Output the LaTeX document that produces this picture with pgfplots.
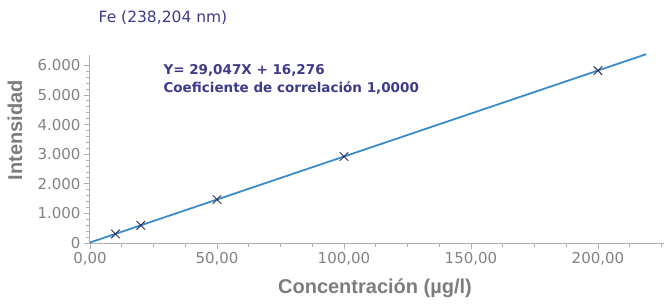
\documentclass[border=0pt]{standalone}
\usepackage{pgfplots}
\pgfplotsset{compat=1.18}
\usepackage{fontspec}
\setmainfont{Liberation Sans}
\newfontfamily\dv{DejaVu Sans}
\definecolor{titlec}{RGB}{62,58,140}
\definecolor{linec}{RGB}{58,140,200}
\definecolor{markc}{RGB}{45,50,85}
\definecolor{axc}{RGB}{175,175,175}
\definecolor{tickc}{RGB}{130,130,130}
\definecolor{labc}{RGB}{125,125,125}
\begin{document}
\begin{tikzpicture}
\useasboundingbox (-90pt,-62pt) rectangle (581pt,243pt);
\begin{axis}[
  at={(0,0)}, anchor=south west,
  scale only axis, width=574pt, height=188pt,
  xmin=0, xmax=226, ymin=0, ymax=6350,
  axis lines=left, axis line style={axc, line width=1pt, -},
  xtick={0,50,100,150,200}, ytick={0,1000,2000,3000,4000,5000,6000},
  minor xtick={12.5,25,37.5,62.5,75,87.5,112.5,125,137.5,162.5,175,187.5,212.5,225},
  minor y tick num=4,
  tick style={axc, line width=0.8pt},
  major tick length=6pt, minor tick length=4pt,
  tick align=outside,
  every tick label/.append style={font=\dv\fontsize{15}{17}\selectfont, text=tickc},
  /pgf/number format/assume math mode=true,
  xticklabel style={/pgf/number format/.cd, fixed, fixed zerofill, precision=2, use comma, 1000 sep={.}},
  yticklabel style={/pgf/number format/.cd, fixed, precision=0, use comma, 1000 sep={.}},
  scaled ticks=false,
  clip=false,
]
\addplot[linec, line width=1.8pt] coordinates {(0,16.276) (219,6377.6)};
\addplot[only marks, mark=x, mark size=6pt, mark options={markc, line width=1pt}] coordinates {
(10,306.7) (20,597.2) (50,1468.6) (100,2921.0) (200,5825.7)};
\end{axis}
\node[text=titlec, font=\dv\fontsize{15.5}{18}\selectfont] at (73pt,225pt) {Fe (238,204 nm)};
\node[text=titlec, font=\dv\bfseries\fontsize{13.5}{18}\selectfont, anchor=west, align=left] at (70pt,164pt) {Y= 29,047X + 16,276\\Coeficiente de correlación 1,0000};
\node[text=labc, font=\bfseries\fontsize{20}{22}\selectfont] at (285pt,-45pt) {Concentración (µg/l)};
\node[text=labc, font=\bfseries\fontsize{20}{22}\selectfont, rotate=90] at (-75pt,113pt) {Intensidad};
\end{tikzpicture}
\end{document}
